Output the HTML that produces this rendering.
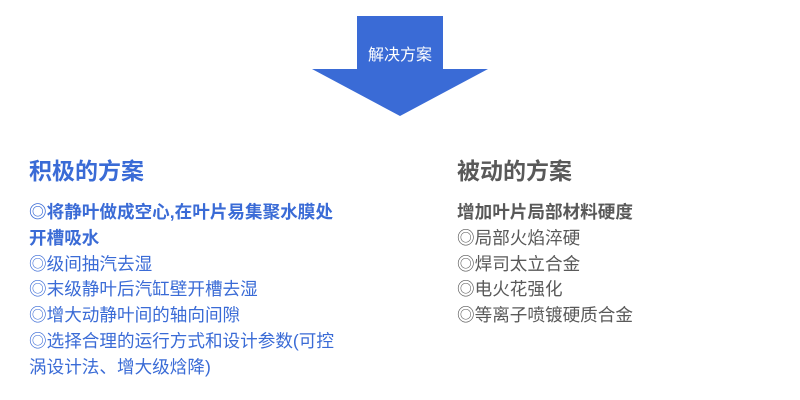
<!DOCTYPE html>
<html><head><meta charset="utf-8"><style>
body{margin:0;width:800px;height:400px;background:#fff;position:relative;overflow:hidden;font-family:"Liberation Sans","Noto Sans CJK SC",sans-serif}
.t{position:absolute;font-size:23px;font-weight:bold;line-height:26px}
.l{position:absolute;font-size:17.6px;line-height:25.8px;white-space:nowrap}
</style></head><body>
<svg width="800" height="400" style="position:absolute;left:0;top:0">
<polygon points="357,16 443,16 443,69 488,69 400,116 312,69 357,69" fill="#3a6bd6"/>
<text x="400" y="60" fill="#fff" font-size="16" text-anchor="middle" font-family="Liberation Sans,Noto Sans CJK SC,sans-serif">解决方案</text>
</svg>
<div class="t" style="left:29px;top:158px;color:#3a6bd6">积极的方案</div>
<div class="l" style="left:29px;top:200px;color:#3a6bd6"><b>◎将静叶做成空心,在叶片易集聚水膜处<br>开槽吸水</b><br>◎级间抽汽去湿<br>◎末级静叶后汽缸壁开槽去湿<br>◎增大动静叶间的轴向间隙<br>◎选择合理的运行方式和设计参数(可控<br>涡设计法、增大级焓降)</div>
<div class="t" style="left:457px;top:158px;color:#595959">被动的方案</div>
<div class="l" style="left:457px;top:200px;color:#595959"><b>增加叶片局部材料硬度</b><br>◎局部火焰淬硬<br>◎焊司太立合金<br>◎电火花强化<br>◎等离子喷镀硬质合金</div>
</body></html>
